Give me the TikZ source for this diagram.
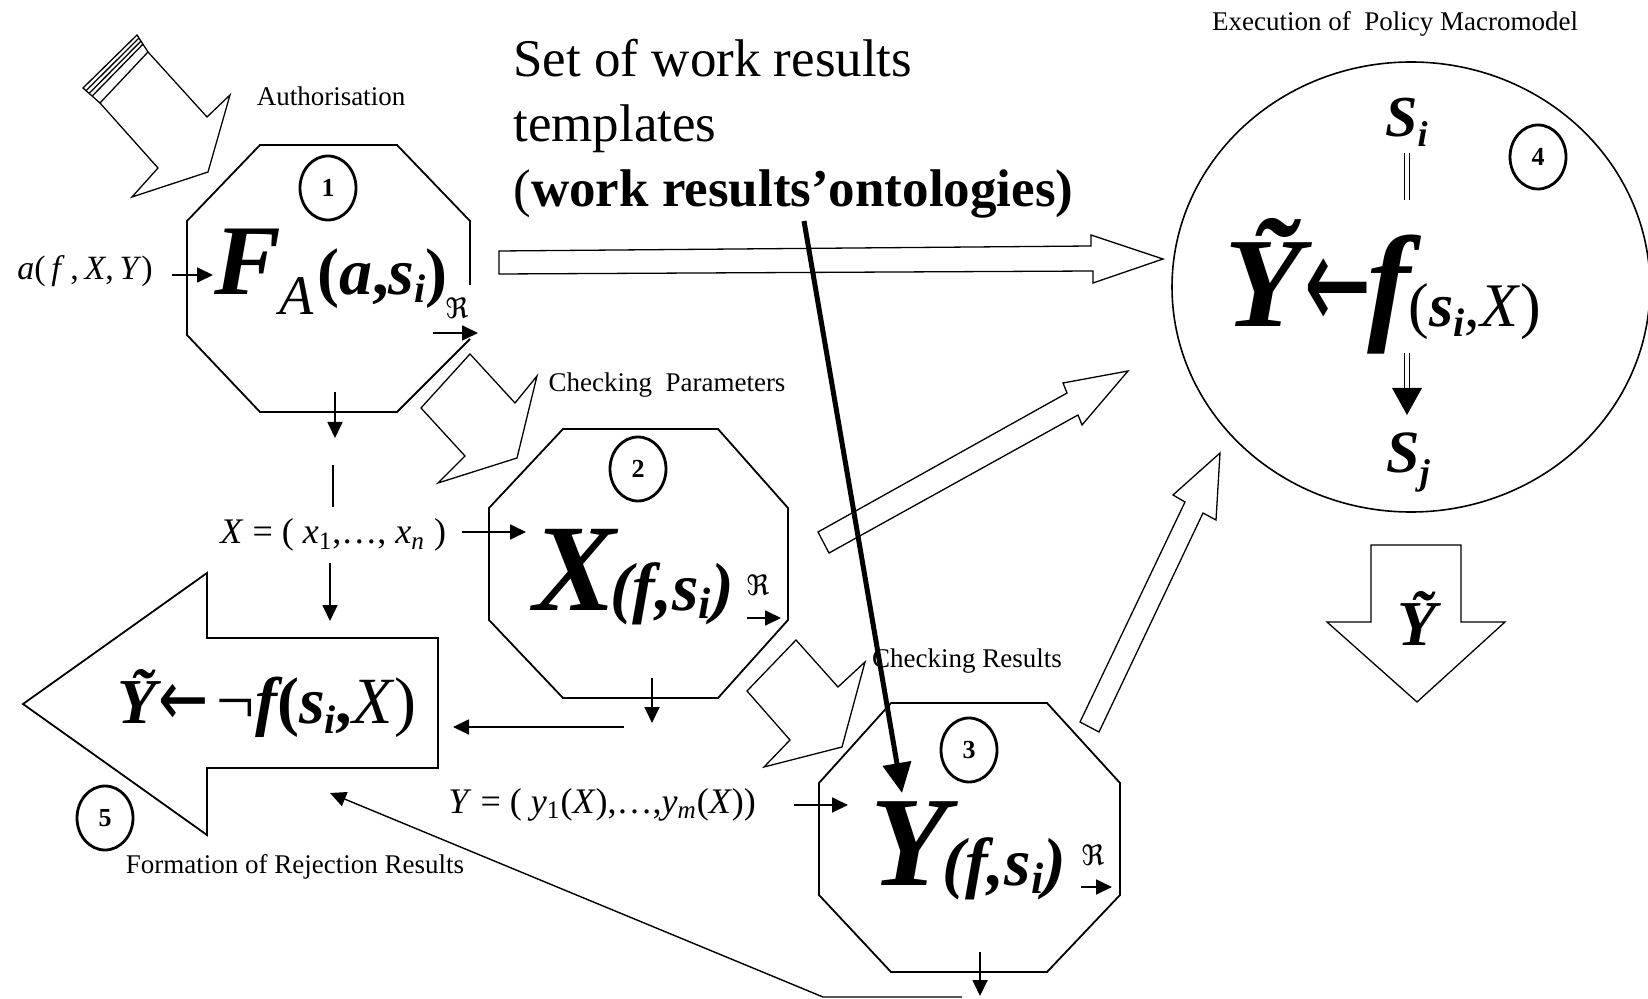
\documentclass[tikz,border=0pt]{standalone}
\usepackage{fontspec}
\usepackage{graphicx}
\setmainfont{Liberation Serif}
\newfontfamily\dvs{DejaVu Sans}
\usetikzlibrary{shapes.geometric,arrows.meta,calc}
\newcommand\fsz[1]{\fontsize{#1}{#1}\selectfont}
\begin{document}
\begin{tikzpicture}[x=0.5pt,y=-0.5pt,
  oct/.style={draw,line width=0.9pt,line join=miter},
  blk/.style={draw,line width=0.65pt,line join=miter},
  sarrow/.style={-{Triangle[length=8pt,width=7.5pt]},line width=0.9pt},
  plain/.style={line width=0.9pt},
  lbl/.style={font=\fsz{13.5},inner sep=0pt,anchor=base},
  mlab/.style={inner sep=0pt,anchor=base west},
  num/.style={ellipse,draw,line width=1.4pt,minimum width=28pt,minimum height=32pt,inner sep=0pt,font=\fsz{13}\bfseries},
  frm/.style={inner sep=0pt,anchor=base west},
  rsym/.style={inner sep=0pt,font=\dvs\fsz{14}},
  big/.style={inner sep=0pt,anchor=base west,font=\fsz{26.5}}
]
\useasboundingbox (0,0) rectangle (1648,999);
\fill[white] (0,0) rectangle (1648,999);

% ---------- block arrows ----------
% Authorisation (striped tail)
\draw[blk] (148,52) -- (207,117) -- (230,95) -- (208,172) -- (132,197) -- (158,168) -- (100,103);
\draw[blk] (100,103) -- (83,88) -- (137,35) -- (148,52) -- cycle;
\foreach \t in {0.18,0.36,0.54}
  \draw[blk] ($(83,88)!\t!(100,103)$) -- ($(137,35)!\t!(148,52)$);
% Checking Parameters
\draw[blk] (470,354) -- (515,403) -- (537,376) -- (517,458) -- (438,483) -- (465,456) -- (421,408) -- cycle;
% Checking Results
\draw[blk] (796,640) -- (838,687) -- (865,662) -- (842,747) -- (764,767) -- (790,740) -- (747,691) -- cycle;
% horizontal to macromodel
\draw[blk] (499,251) -- (1091,246) -- (1091,235) -- (1163,259) -- (1093,283) -- (1093,271) -- (499,274) -- cycle;
% diagonal from 2
\draw[blk] (818,532) -- (1067,393) -- (1063,383) -- (1128,371) -- (1082,425) -- (1078,415) -- (829,553) -- cycle;
% up from 3
\draw[blk] (1080,722) -- (1185,502) -- (1173,495) -- (1220,453) -- (1216,520) -- (1203,513) -- (1099,732) -- cycle;
% down output arrow
\draw[blk] (1371,545) -- (1461,545) -- (1461,622) -- (1505,622) -- (1417,702) -- (1327,622) -- (1371,622) -- cycle;

% ---------- octagons ----------
\draw[oct] (470,285) -- (470,221) -- (397,145) -- (260,145) -- (187,221) -- (187,335) -- (260,412) -- (397,412) -- (470,339);
\draw[oct] (563,429) -- (718,429) -- (788,508) -- (788,620) -- (718,698) -- (563,698) -- (489,620) -- (489,508) -- cycle;
\draw[oct] (891,703) -- (1047,703) -- (1120,783) -- (1120,895) -- (1047,972) -- (891,972) -- (819,895) -- (819,783) -- cycle;
% rejection arrow shape (5)
\draw[oct] (23,704) -- (207,573) -- (207,638) -- (438,638) -- (438,768) -- (207,768) -- (207,835) -- cycle;
% macromodel ellipse (4)
\draw[line width=0.8pt] (1411,287) ellipse [x radius=239, y radius=225];

% ---------- numbers ----------
\node[num] (n1) at (328,188) {1};
\node[num] (n2) at (638,469) {2};
\node[num] (n3) at (969,750) {3};
\node[num] (n4) at (1538,157) {4};
\node[num] (n5) at (105,818) {5};

% ---------- labels ----------
\node[lbl] (auth) at (331,106) {Authorisation};
\node[lbl] (chkp) at (667,392) {Checking \ Parameters};
\node[lbl] (chkr) at (967,667) {Checking Results};
\node[lbl] (form) at (295,873) {Formation of Rejection Results};
\node[lbl] (exec) at (1395,31) {Execution of \ Policy Macromodel};

\node[big] (t1) at (513,77) {Set of work results};
\node[big] (t2) at (513,142) {templates};
\node[big] (t3) at (513,207) {(\textbf{work results’ontologies)}};

% ---------- formulas ----------
\node[frm] (FA) at (214,295) {{\fsz{50}\bfseries\itshape F}\kern-1pt\raisebox{-10pt}{\fsz{28}\itshape A}\kern2pt{\fsz{33}\bfseries(\textit{a},\textit{s}\raisebox{-4pt}{\fsz{20}\textit{i}})}};
\node[frm] (Xf) at (533,610) {{\fsz{62}\bfseries\itshape X}\kern-3pt{\fsz{34}\bfseries\itshape (f,s\raisebox{-4pt}{\fsz{22}i})}};
\node[frm] (Yf) at (870,885) {{\fsz{64}\bfseries\itshape Y}\kern-3pt{\fsz{34}\bfseries\itshape (f,s\raisebox{-4pt}{\fsz{22}i})}};
\node[frm] (C4f) at (1224,327) {{\fsz{64}\bfseries\itshape Ỹ}\kern1pt\raisebox{-2pt}{\scalebox{1}[1.7]{\dvs\fsz{40}←}}\kern-2pt{\fsz{65}\bfseries\itshape f}\kern-1pt{\fsz{31}(\textbf{\textit{s}}\raisebox{-5pt}{\fsz{20}\textbf{\textit{i}}},\textit{X})}};
\node[frm] (R5f) at (117,723) {{\fsz{32}\bfseries\itshape Ỹ}\kern1pt\raisebox{-1pt}{\scalebox{1}[1.3]{\dvs\fsz{30}←}}\kern4pt{\fsz{34}¬}{\fsz{33}\bfseries\itshape f}{\fsz{33}\bfseries(\textit{s}\raisebox{-5pt}{\fsz{20}\textit{i}},\mdseries\textit{X})}};
\node[frm] (Si) at (1385,137) {{\fsz{29}\bfseries\itshape S}\raisebox{-5pt}{\fsz{18}\bfseries\itshape i}};
\node[frm] (Sj) at (1386,473) {{\fsz{30}\bfseries\itshape S}\raisebox{-6pt}{\fsz{18}\bfseries\itshape j}};
\node[frm,anchor=base] (Yt) at (1417,645) {\fsz{32}\bfseries\itshape Ỹ};

% math labels
\node[mlab,font=\fsz{17}] (la) at (17,280) {\textit{a}(\,\textit{f}\,,\,\textit{X},\,\textit{Y})};
\node[mlab,font=\fsz{18}] (lx) at (220,544) {\textit{X} = ( \textit{x}\textsubscript{1},…, \textit{x}\textsubscript{\textit{n}} )};
\node[mlab,font=\fsz{18}] (ly) at (448,813) {\textit{Y} = ( \textit{y}\textsubscript{1}(\textit{X}),…,\textit{y}\textsubscript{\textit{m}}(\textit{X}))};

% R symbols
\node[rsym] (r1) at (457,308) {ℜ};
\node[rsym] (r2) at (758,585) {ℜ};
\node[rsym] (r3) at (1093,855) {ℜ};

% ---------- small connectors ----------
\coordinate (a1s) at (172,275); \coordinate (a1e) at (213,275);
\draw[sarrow] (a1s) -- (a1e);
\coordinate (r1s) at (433,333); \coordinate (r1e) at (478,333);
\draw[sarrow] (r1s) -- (r1e);
\coordinate (r2s) at (747,618); \coordinate (r2e) at (781,618);
\draw[sarrow] (r2s) -- (r2e);
\coordinate (r3s) at (1081,887); \coordinate (r3e) at (1112,887);
\draw[sarrow] (r3s) -- (r3e);

\coordinate (d1s) at (335,392); \coordinate (d1e) at (335,438);
\draw[sarrow] (d1s) -- (d1e);
\coordinate (v1s) at (333,465); \coordinate (v1e) at (333,507);
\draw[plain] (v1s) -- (v1e);
\coordinate (d2s) at (330,563); \coordinate (d2e) at (330,621);
\draw[sarrow] (d2s) -- (d2e);
\coordinate (x2s) at (462,532); \coordinate (x2e) at (526,532);
\draw[sarrow] (x2s) -- (x2e);
\coordinate (d3s) at (652,678); \coordinate (d3e) at (652,723);
\draw[sarrow] (d3s) -- (d3e);
\coordinate (l5s) at (624,727); \coordinate (l5e) at (453,727);
\draw[sarrow] (l5s) -- (l5e);
\coordinate (y3s) at (794,805); \coordinate (y3e) at (848,805);
\draw[sarrow] (y3s) -- (y3e);
\coordinate (d4s) at (980,952); \coordinate (d4e) at (980,996);
\draw[sarrow] (d4s) -- (d4e);
\coordinate (bk0) at (962,997); \coordinate (bk1) at (823,997); \coordinate (bk2) at (330,793);
\draw[sarrow,line width=0.7pt] (bk0) -- (bk1) -- (bk2);

% macromodel inner
\coordinate (m1) at (1407,153); \coordinate (m2) at (1407,200);
\draw[double,double distance=1.8pt,line width=0.6pt] (m1) -- (m2);
\coordinate (m3) at (1407,353); \coordinate (m4) at (1407,390);
\draw[double,double distance=1.8pt,line width=0.6pt] (m3) -- (m4);
\fill (1392,388) -- (1422,388) -- (1407,415) -- cycle;

% thick ontology arrow
\coordinate (th0) at (804,221); \coordinate (th1) at (902,793);
\draw[line width=2.5pt,-{Triangle[length=15pt,width=14pt]}] (th0) -- (th1);
\end{tikzpicture}
\end{document}
